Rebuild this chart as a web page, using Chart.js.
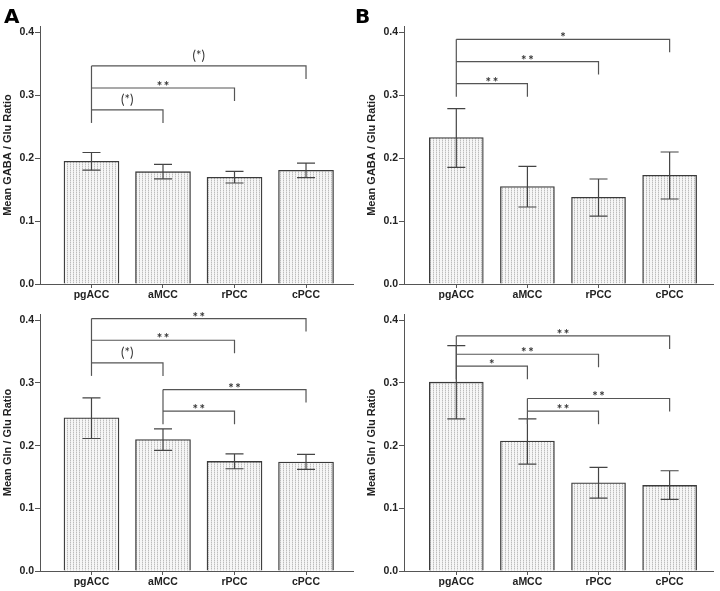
<!DOCTYPE html>
<html><head><meta charset="utf-8">
<script src="https://cdn.jsdelivr.net/npm/chart.js@4/dist/chart.umd.min.js"></script>
<style>
html,body{margin:0;padding:0;background:#fff;}
#wrap{position:relative;width:720px;height:591px;overflow:hidden;background:#fff;}
canvas{position:absolute;}
.lbl{position:absolute;font:bold 20px "DejaVu Sans";color:#000;line-height:24px;}
</style></head><body>
<div id="wrap">
<canvas id="cA" width="360" height="304" style="left:0;top:0"></canvas>
<canvas id="cB" width="360" height="304" style="left:360px;top:0"></canvas>
<canvas id="cC" width="360" height="287" style="left:0;top:304px"></canvas>
<canvas id="cD" width="360" height="287" style="left:360px;top:304px"></canvas>
<div class="lbl" style="left:4px;top:4px">A</div>
<div class="lbl" style="left:355px;top:4px">B</div>
</div>
<script>
const categories = ['pgACC', 'aMCC', 'rPCC', 'cPCC'];
const yTicks = [0, 0.1, 0.2, 0.3, 0.4];

// Panel A: GABA/Glu (left column)
const gabaGluA = [0.195, 0.1785, 0.1695, 0.1807];
const gabaGluAHigh = [0.209, 0.190, 0.179, 0.192];
const gabaGluALow = [0.181, 0.167, 0.1605, 0.169];
const bracketsA = [[0, 1, 0.2766, '(*)'], [0, 2, 0.3115, '**'], [0, 3, 0.3465, '(*)']];

// Panel B: GABA/Glu (right column)
const gabaGluB = [0.2326, 0.1547, 0.1377, 0.1727];
const gabaGluBHigh = [0.2787, 0.187, 0.1669, 0.2098];
const gabaGluBLow = [0.1854, 0.1224, 0.108, 0.1351];
const bracketsB = [[0, 1, 0.3184, '**'], [0, 2, 0.3534, '**'], [0, 3, 0.3889, '*']];

// Panel C: Gln/Glu (left column)
const glnGluA = [0.2444, 0.2098, 0.1748, 0.1737];
const glnGluAHigh = [0.2762, 0.2268, 0.187, 0.1859];
const glnGluALow = [0.2114, 0.1923, 0.1631, 0.162];
const bracketsC = [[0, 1, 0.332, '(*)'], [0, 2, 0.3681, '**'], [0, 3, 0.4027, '**'],
                   [1, 2, 0.255, '**'], [1, 3, 0.2895, '**']];

// Panel D: Gln/Glu (right column)
const glnGluB = [0.3012, 0.2072, 0.1408, 0.1365];
const glnGluBHigh = [0.3596, 0.2428, 0.1652, 0.1599];
const glnGluBLow = [0.2428, 0.1705, 0.1163, 0.1142];
const bracketsD = [[0, 1, 0.3267, '*'], [0, 2, 0.3458, '**'], [0, 3, 0.375, '**'],
                   [1, 2, 0.255, '**'], [1, 3, 0.2752, '**']];

const FONT = '"Liberation Sans", Arial, sans-serif';

function makePattern() {
  const c = document.createElement('canvas');
  c.width = 3; c.height = 2;
  const g = c.getContext('2d');
  g.fillStyle = '#f6f6f6'; g.fillRect(0, 0, 3, 2);
  g.fillStyle = '#bcbcbc'; g.fillRect(1, 0, 1, 1);
  g.fillStyle = '#dedede'; g.fillRect(1, 1, 1, 1);
  return g.createPattern(c, 'repeat');
}
const pattern = makePattern();

const sigPlugin = {
  id: 'sig',
  afterDatasetsDraw(chart, args, opts) {
    const ctx = chart.ctx, x = chart.scales.x, y = chart.scales.y;
    ctx.save();
    ctx.strokeStyle = '#444'; ctx.lineWidth = 1.2;
    opts.high.forEach((h, i) => {
      const px = x.getPixelForValue(i);
      const pt = y.getPixelForValue(h), pb = y.getPixelForValue(opts.low[i]);
      ctx.beginPath();
      ctx.moveTo(px, pt); ctx.lineTo(px, pb);
      ctx.moveTo(px - 9, pt); ctx.lineTo(px + 9, pt);
      ctx.moveTo(px - 9, pb); ctx.lineTo(px + 9, pb);
      ctx.stroke();
    });
    const drop = 13;
    ctx.strokeStyle = '#555'; ctx.lineWidth = 1.2;
    const groups = {};
    opts.brackets.forEach(([a, b, lvl, txt]) => {
      const xa = x.getPixelForValue(a), xb = x.getPixelForValue(b), py = y.getPixelForValue(lvl);
      ctx.beginPath();
      ctx.moveTo(xa, py); ctx.lineTo(xb, py); ctx.lineTo(xb, py + drop);
      ctx.stroke();
      (groups[a] = groups[a] || []).push(py);
      ctx.fillStyle = '#333';
      ctx.textAlign = 'center';
      ctx.textBaseline = 'alphabetic';
      const tx = (xa + xb) / 2;
      if (txt[0] === '(') { ctx.font = '13px Lato'; ctx.fillText(txt, tx, py - 6); }
      else { ctx.font = 'bold 13px Lato'; ctx.fillText(txt.split('').join('\u2009'), tx, py + 3); }
    });
    Object.keys(groups).forEach(a => {
      const xa = x.getPixelForValue(+a);
      const top = Math.min(...groups[a]), bot = Math.max(...groups[a]) + drop;
      ctx.beginPath(); ctx.moveTo(xa, top); ctx.lineTo(xa, bot); ctx.stroke();
    });
    ctx.restore();
  }
};

function build(id, values, high, low, brackets, yTitle, yWidth, xMin, xMax, padTop, thick) {
  new Chart(document.getElementById(id), {
    type: 'bar',
    data: {
      datasets: [{
        data: values.map((v, i) => ({ x: i, y: v })),
        backgroundColor: pattern,
        borderColor: '#3a3a3a',
        borderWidth: 1.3,
        barThickness: thick
      }]
    },
    options: {
      responsive: false,
      animation: false,
      events: [],
      layout: { padding: { left: 0, right: 7, top: padTop, bottom: 0 } },
      plugins: {
        legend: { display: false },
        tooltip: { enabled: false },
        sig: { high, low, brackets }
      },
      scales: {
        x: {
          type: 'linear', min: xMin, max: xMax, offset: false,
          afterBuildTicks(s) { s.ticks = categories.map((c, i) => ({ value: i })); },
          afterFit(s) { s.height = 20; },
          ticks: {
            callback: (v) => categories[v],
            font: { family: FONT, weight: 'bold', size: 10.5 },
            color: '#222', padding: 1, maxRotation: 0, autoSkip: false
          },
          grid: { display: true, offset: false, drawOnChartArea: false, drawTicks: true, tickLength: 4, color: '#555' },
          border: { display: true, color: '#555', width: 1 }
        },
        y: {
          min: 0, max: 0.41,
          afterBuildTicks(s) { s.ticks = yTicks.map(v => ({ value: v })); },
          afterFit(s) { s.width = yWidth; },
          ticks: {
            callback: (v) => v.toFixed(1),
            font: { family: FONT, weight: 'bold', size: 10.5 },
            color: '#222', padding: 1
          },
          grid: { display: true, drawOnChartArea: false, drawTicks: true, tickLength: 5, color: '#555' },
          border: { display: true, color: '#555', width: 1 },
          title: {
            display: true, text: yTitle,
            font: { family: FONT, weight: 'bold', size: 11 },
            color: '#222', padding: { top: yWidth - 39, bottom: 0 }
          }
        }
      }
    },
    plugins: [sigPlugin]
  });
}

build('cA', gabaGluA, gabaGluAHigh, gabaGluALow, bracketsA, 'Mean GABA / Glu Ratio', 40, -0.72, 3.657, 26, 55);
build('cB', gabaGluB, gabaGluBHigh, gabaGluBLow, bracketsB, 'Mean GABA / Glu Ratio', 44, -0.7356, 3.61, 26, 54);
build('cC', glnGluA, glnGluAHigh, glnGluALow, bracketsC, 'Mean Gln / Glu Ratio', 40, -0.72, 3.657, 10, 55);
build('cD', glnGluB, glnGluBHigh, glnGluBLow, bracketsD, 'Mean Gln / Glu Ratio', 44, -0.7356, 3.61, 10, 54);
</script>
</body></html>
